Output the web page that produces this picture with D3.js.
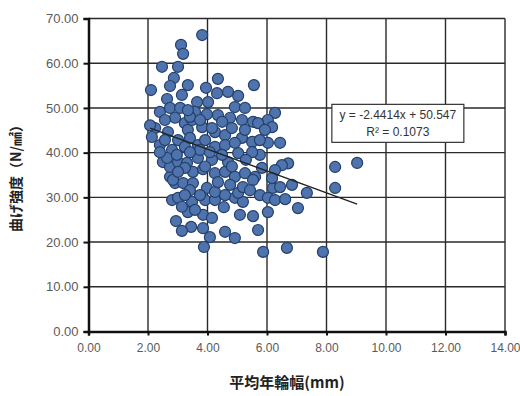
<!DOCTYPE html>
<html>
<head>
<meta charset="utf-8">
<script src="https://cdn.jsdelivr.net/npm/d3@7"></script>
<style>
  body { margin: 0; background: #fff; }
  svg { display: block; }
</style>
</head>
<body>
<script>
// average ring width (mm) vs bending strength (N/mm2)
const ringWidth = [
  3.82, 3.11, 3.18, 2.47, 3.01, 2.87, 2.74, 2.10, 3.34, 3.95,
  4.35, 5.56, 2.64, 3.14, 3.65, 4.02, 4.32, 4.69, 5.03, 4.92,
  5.26, 2.91, 3.24, 3.98, 4.35, 4.76, 5.16, 5.53, 2.24, 2.67,
  3.34, 3.82, 4.25, 4.59, 5.16, 5.50, 2.13, 3.01, 6.27, 6.03,
  6.17, 5.70, 6.03, 6.44, 5.76, 6.71, 6.50, 8.29, 9.03, 5.83,
  6.27, 5.60, 6.84, 6.20, 6.44, 8.29, 7.34, 5.76, 6.03, 6.27,
  6.61, 7.04, 6.03, 5.53, 5.70, 5.87, 6.67, 7.88, 3.88, 4.08,
  3.85, 3.45, 3.14, 2.94, 4.59, 4.92, 3.85, 3.34, 4.55, 2.81,
  3.01, 3.48, 3.92, 4.25, 4.92, 5.19, 2.74, 2.91, 3.18, 3.51,
  3.41, 3.98, 4.25, 4.59, 5.03, 2.50, 2.74, 3.01, 3.31, 3.68,
  4.15, 4.25, 4.59, 4.92, 5.26, 5.53, 4.69, 5.03, 5.50, 2.81,
  3.24, 3.68, 4.25, 4.59, 4.92, 3.51, 3.85, 3.24, 5.19, 2.40,
  2.64, 2.84, 3.14, 2.40, 2.57, 3.58, 3.48, 3.41, 4.15, 2.07,
  2.57, 3.41, 3.92, 3.75, 4.08, 4.49, 5.29, 3.01, 4.76, 5.43,
  4.35, 3.75, 3.24, 3.58, 4.15, 5.09, 3.92, 4.82, 5.76, 5.93,
  5.26, 4.82, 4.49, 3.75, 2.74, 3.08, 3.34, 2.40, 2.97, 3.41,
  6.17
];
const strength = [
  66.3, 64.1, 62.1, 59.2, 59.2, 56.7, 54.9, 54.0, 55.1, 54.5,
  56.5, 55.1, 52.0, 52.9, 51.3, 51.3, 53.3, 53.6, 52.7, 50.2,
  50.0, 47.8, 46.6, 48.6, 48.4, 47.8, 47.3, 46.9, 45.5, 44.6,
  45.1, 45.7, 44.6, 43.9, 43.3, 42.4, 43.5, 42.8, 48.9, 47.3,
  45.7, 46.6, 42.2, 42.2, 39.5, 37.6, 37.2, 36.8, 37.7, 36.6,
  36.1, 34.6, 32.8, 32.1, 32.3, 32.1, 31.0, 30.5, 29.9, 29.4,
  29.6, 27.6, 26.7, 25.8, 22.7, 17.8, 18.7, 17.8, 18.9, 21.1,
  23.1, 23.4, 22.5, 24.7, 22.3, 20.9, 26.1, 26.7, 27.8, 29.4,
  29.9, 29.0, 29.4, 29.4, 29.9, 29.0, 34.6, 33.2, 33.2, 33.2,
  31.6, 32.1, 31.2, 30.5, 31.0, 37.9, 36.8, 37.9, 37.7, 38.8,
  38.4, 35.4, 35.7, 34.6, 35.4, 33.9, 37.9, 39.9, 40.1, 40.6,
  41.3, 41.7, 41.3, 41.7, 42.2, 35.7, 36.3, 36.6, 32.3, 41.7,
  38.8, 33.9, 27.9, 49.1, 47.3, 49.1, 47.3, 48.0, 45.5, 46.1,
  42.8, 43.3, 42.8, 40.6, 40.1, 39.5, 38.4, 35.7, 32.8, 31.6,
  33.4, 30.5, 30.5, 27.2, 25.4, 26.1, 36.9, 36.9, 42.8, 45.1,
  45.1, 45.5, 46.9, 47.3, 50.0, 50.0, 49.5, 40.1, 39.5, 40.1,
  34.3
];

// linear trendline as printed on the chart
const slope = -2.4414;
const intercept = 50.547;
const rSquared = 0.1073;

const xTicks = [0, 2, 4, 6, 8, 10, 12, 14];
const yTicks = [0, 10, 20, 30, 40, 50, 60, 70];

const width = 520;
const height = 396;
const margin = { top: 18.5, right: 15, bottom: 64.5, left: 88.5 };

const svg = d3.select("body")
  .append("svg")
  .attr("width", width)
  .attr("height", height);

const x = d3.scaleLinear()
  .domain([0, 14])
  .range([margin.left, width - margin.right]);

const y = d3.scaleLinear()
  .domain([0, 70])
  .range([height - margin.bottom, margin.top]);

// grid
svg.append("g")
  .selectAll("line.vgrid")
  .data(xTicks.slice(1))
  .join("line")
  .attr("x1", d => x(d))
  .attr("x2", d => x(d))
  .attr("y1", y(0))
  .attr("y2", y(70))
  .attr("stroke", "#2a2a2a")
  .attr("stroke-width", 1.4);

svg.append("g")
  .selectAll("line.hgrid")
  .data(yTicks.slice(1))
  .join("line")
  .attr("x1", x(0))
  .attr("x2", x(14))
  .attr("y1", d => y(d))
  .attr("y2", d => y(d))
  .attr("stroke", "#2a2a2a")
  .attr("stroke-width", 1.4);

// axes
const yAxis = d3.axisLeft(y)
  .tickValues(yTicks)
  .tickFormat(d3.format(".2f"))
  .tickSize(5)
  .tickPadding(5);
const gy = svg.append("g")
  .attr("transform", `translate(${x(0)},0)`)
  .call(yAxis);

const xAxis = d3.axisBottom(x)
  .tickValues(xTicks)
  .tickFormat(d3.format(".2f"))
  .tickSize(4)
  .tickPadding(8);
const gx = svg.append("g")
  .attr("transform", `translate(0,${y(0)})`)
  .call(xAxis);

[gx, gy].forEach(g => {
  g.select(".domain").attr("stroke", "#111").attr("stroke-width", 2.5);
  g.selectAll(".tick line").attr("stroke", "#111").attr("stroke-width", 2);
  g.selectAll(".tick text")
    .attr("fill", "#5a5a5a")
    .style("font-family", "'Liberation Sans', Arial, sans-serif");
});
gy.selectAll(".tick text").style("font-size", "13px");
gx.selectAll(".tick text").style("font-size", "12px");

// points
svg.append("g")
  .selectAll("circle")
  .data(ringWidth.map((w, i) => [w, strength[i]]))
  .join("circle")
  .attr("cx", d => x(d[0]))
  .attr("cy", d => y(d[1]))
  .attr("r", 5.5)
  .attr("fill", "#4f73ad")
  .attr("stroke", "#24406b")
  .attr("stroke-width", 1.2);

// trendline over the data range
const xMin = d3.min(ringWidth);
const xMax = d3.max(ringWidth);
svg.append("line")
  .attr("x1", x(xMin))
  .attr("y1", y(slope * xMin + intercept))
  .attr("x2", x(xMax))
  .attr("y2", y(slope * xMax + intercept))
  .attr("stroke", "#222")
  .attr("stroke-width", 1.3);

// equation label
const eq = svg.append("g").attr("transform", `translate(${x(8.18)},${y(50.8)})`);
eq.append("rect")
  .attr("width", 132)
  .attr("height", 38)
  .attr("fill", "#fff")
  .attr("stroke", "#333")
  .attr("stroke-width", 1.2);
eq.append("text")
  .attr("x", 66)
  .attr("y", 15)
  .attr("text-anchor", "middle")
  .attr("fill", "#333")
  .style("font", "12px 'Liberation Sans', Arial, sans-serif")
  .text(`y = ${slope}x + ${intercept}`);
eq.append("text")
  .attr("x", 66)
  .attr("y", 32)
  .attr("text-anchor", "middle")
  .attr("fill", "#333")
  .style("font", "12px 'Liberation Sans', Arial, sans-serif")
  .text(`R² = ${rSquared}`);

// axis titles
svg.append("text")
  .attr("x", 287)
  .attr("y", 388)
  .attr("text-anchor", "middle")
  .attr("fill", "#222")
  .style("font", "bold 15px 'Noto Sans CJK JP', sans-serif")
  .text("平均年輪幅(mm)");

svg.append("text")
  .attr("transform", `translate(21,${(y(0) + y(70)) / 2}) rotate(-90)`)
  .attr("text-anchor", "middle")
  .attr("fill", "#222")
  .style("font", "bold 14px 'Noto Sans CJK JP', sans-serif")
  .text("曲げ強度（N/㎟）");
</script>
</body>
</html>
